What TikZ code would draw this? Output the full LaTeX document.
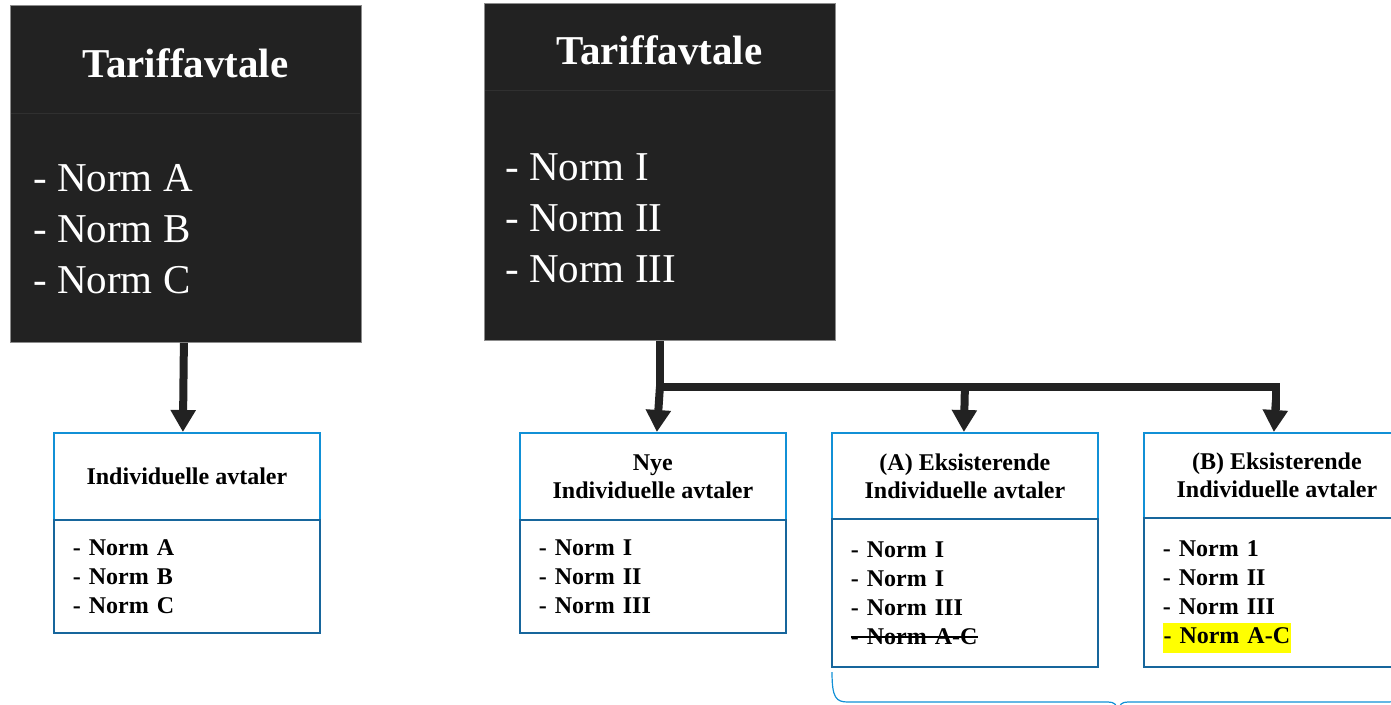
\documentclass[tikz,border=0pt]{standalone}
\usepackage{fontspec}
\setmainfont{Liberation Serif}
\usepackage{tikz}
\usetikzlibrary{positioning,arrows.meta}
\usepackage{xcolor}
\definecolor{tardark}{HTML}{222222}
\definecolor{tarline}{HTML}{303030}
\definecolor{headblue}{HTML}{1190D6}
\definecolor{bodyblue}{HTML}{17669C}
\definecolor{markyellow}{HTML}{FFFF00}
\setlength{\fboxsep}{0.6pt}
\newcommand{\strikenorm}[1]{\leavevmode\hbox{\setbox0\hbox{#1}\copy0\kern-\wd0\rule[0.26em]{\wd0}{1.6pt}}}

\begin{document}
\begin{tikzpicture}[x=1pt,y=-1pt,>={Triangle[width=24pt,length=22pt]},
  bigbox/.style={fill=tardark,draw=black!45,line width=0.8pt,minimum width=351pt,minimum height=337pt,anchor=north west,inner sep=0pt},
  bigtitle/.style={text=white,font=\fontsize{41}{49}\selectfont\bfseries},
  bignorms/.style={text=white,font=\fontsize{41}{51}\selectfont,align=left,anchor=west,inner sep=0pt},
  hdrbox/.style={draw=headblue,line width=1.8pt,fill=white,minimum width=266pt,minimum height=87pt,align=center,anchor=north west,inner sep=0pt,font=\fontsize{24}{28}\selectfont\bfseries},
  bodybox/.style={draw=bodyblue,line width=1.8pt,fill=white,text width=228pt,inner xsep=19pt,inner ysep=0pt,align=left,anchor=north west,font=\fontsize{24}{29}\selectfont\bfseries},
  flow/.style={->,line width=8pt,draw=tardark},
  flowline/.style={line width=8pt,draw=tardark},
  bracket/.style={draw=headblue,line width=1.2pt}]
\useasboundingbox (0,0) rectangle (1391,704);
\node[bigbox] (tarL) at (10,5) {};
\draw[tarline,line width=0.6pt] (11,113) -- (360,113);
\node[bigtitle] (tarLtitle) at (185.5,63) {Tariffavtale};
\node[bignorms] (tarLnorms) at (33,229) {- Norm A\\- Norm B\\- Norm C};
\node[bigbox] (tarR) at (484,3) {};
\draw[tarline,line width=0.6pt] (485,90) -- (834,90);
\node[bigtitle] (tarRtitle) at (659.5,50) {Tariffavtale};
\node[bignorms] (tarRnorms) at (505,218) {- Norm I\\- Norm II\\- Norm III};
\node[hdrbox] (indHead) at (53,432) {Individuelle avtaler};
\node[bodybox,minimum height=113pt] (indBody) at (53,519) {- Norm A\\- Norm B\\- Norm C};
\node[hdrbox] (nyeHead) at (519,432) {Nye\\Individuelle avtaler};
\node[bodybox,minimum height=113pt] (nyeBody) at (519,519) {- Norm I\\- Norm II\\- Norm III};
\node[hdrbox,minimum height=86pt] (exAHead) at (831,432) {(A) Eksisterende\\Individuelle avtaler};
\node[bodybox,minimum height=148pt] (exABody) at (831,518) {- Norm I\\- Norm I\\- Norm III\\\strikenorm{- Norm A-C}};
\node[hdrbox,minimum height=85pt] (exBHead) at (1143,432) {(B) Eksisterende\\Individuelle avtaler};
\node[bodybox,minimum height=149pt] (exBBody) at (1143,517) {- Norm 1\\- Norm II\\- Norm III\\\smash{\colorbox{markyellow}{\strut - Norm A-C}}};
\coordinate (split) at (tarR.south |- 0,387);
\draw[flow] ([xshift=-2pt]tarL.south) -- ([xshift=-4pt]indHead.north);
\draw[flowline] (tarR.south) -- (split) -| ([xshift=-1pt]exBHead.north |- 0,410);
\draw[flow] (split) -- ([xshift=4pt]nyeHead.north);
\draw[flow] (split -| exAHead.north) -- ([xshift=-1pt]exAHead.north);
\draw[flow] ([xshift=-1pt]exBHead.north |- 0,400) -- ([xshift=-3pt]exBHead.north);
\draw[bracket] (832,672) .. controls (832,698) and (836,702) .. (848,702) -- (1108,702) .. controls (1114,702) and (1117,704) .. (1118,712);
\draw[bracket] (1118,712) .. controls (1119,704) and (1122,702) .. (1128,702) -- (1388,702) .. controls (1400,702) and (1404,698) .. (1404,672);
\end{tikzpicture}
\end{document}
